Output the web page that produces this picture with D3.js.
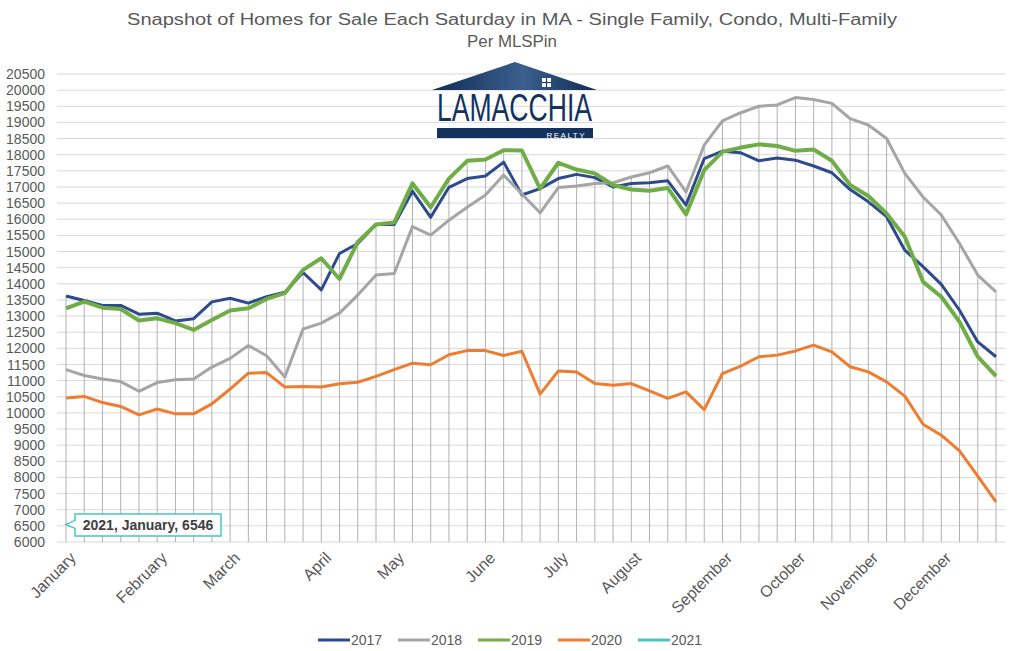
<!DOCTYPE html>
<html>
<head>
<meta charset="utf-8">
<script src="https://cdn.jsdelivr.net/npm/d3@7"></script>
<style>
  body { margin: 0; background: #fff; }
  text { font-family: "Liberation Sans", Arial, sans-serif; fill: #595959; }
</style>
</head>
<body>
<div id="app"></div>
<script>
//DATA------------------------------------------------------
var weeks = d3.range(52); // one point for each Saturday
var months = ["January", "February", "March", "April", "May", "June",
              "July", "August", "September", "October", "November", "December"];
var monthStartWeek = [0, 5, 9, 14, 18, 23, 27, 31, 36, 40, 44, 48];
var yTicks = d3.range(6000, 20501, 500);

var years = ["2017", "2018", "2019", "2020", "2021"];
var colors = ["#2c4a8c", "#a5a5a5", "#70ad47", "#ed7d31", "#4cc3c3"];
var widths = [3, 3, 4, 3, 3];

var s2017 = [13620,13480,13330,13330,13060,13090,12850,12920,13440,13550,
             13400,13600,13740,14350,13810,14940,15250,15840,15840,16870,
             16060,16990,17260,17340,17770,16750,16950,17260,17390,17290,
             17000,17110,17130,17190,16440,17880,18110,18060,17810,17900,
             17830,17650,17440,16920,16540,16080,15040,14530,13980,13180,
             12200,11740];
var s2018 = [11340,11160,11050,10970,10670,10940,11030,11050,11420,11690,
             12090,11770,11110,12600,12780,13090,13650,14270,14320,15770,
             15510,15970,16370,16750,17370,16780,16200,16980,17030,17110,
             17130,17310,17440,17650,16850,18300,19050,19300,19500,19540,
             19770,19710,19590,19120,18920,18500,17420,16690,16130,15250,
             14270,13750];
var s2019 = [13240,13450,13260,13220,12860,12930,12780,12570,12880,13170,
             13240,13530,13710,14430,14790,14150,15300,15840,15900,17110,
             16370,17260,17810,17850,18140,18130,16950,17750,17540,17420,
             17060,16920,16880,16970,16150,17520,18090,18220,18320,18270,
             18120,18160,17810,17060,16720,16180,15460,14060,13600,12820,
             11740,11140];
var s2020 = [10460,10510,10320,10200,9940,10120,9970,9970,10280,10740,
             11230,11250,10800,10820,10800,10900,10950,11130,11340,11540,
             11490,11800,11930,11930,11780,11910,10580,11300,11270,10910,
             10860,10910,10680,10450,10650,10100,11220,11450,11740,11790,
             11920,12100,11890,11430,11270,10960,10520,9650,9310,8820,
             8040,7240];
var s2021 = [6546];

var series = [s2017, s2018, s2019, s2020, s2021];

//CANVAS------------------------------------------------------
var svg = d3.select("#app")
  .append("svg")
    .attr("width", 1024)
    .attr("height", 651);

// scales
var x = d3.scalePoint()
          .domain(weeks)
          .range([66, 996]);
var y = d3.scaleLinear()
          .domain([6000, 20500])
          .range([542, 74]);

// title
svg.append("text")
    .attr("x", 512).attr("y", 25)
    .attr("text-anchor", "middle")
    .attr("font-size", 16)
    .attr("textLength", 770)
    .attr("lengthAdjust", "spacingAndGlyphs")
    .text("Snapshot of Homes for Sale Each Saturday in MA - Single Family, Condo, Multi-Family");
svg.append("text")
    .attr("x", 512).attr("y", 47)
    .attr("text-anchor", "middle")
    .attr("font-size", 16)
    .attr("textLength", 90)
    .attr("lengthAdjust", "spacingAndGlyphs")
    .text("Per MLSPin");

// horizontal gridlines
svg.append("g")
    .attr("class", "grid")
  .selectAll("line")
  .data(yTicks)
  .enter()
    .append("line")
      .attr("x1", 57).attr("x2", 1005)
      .attr("y1", function(d) { return y(d); })
      .attr("y2", function(d) { return y(d); })
      .attr("stroke", "#d9d9d9")
      .attr("stroke-width", 1);

// y labels
svg.append("g")
  .selectAll("text")
  .data(yTicks)
  .enter()
    .append("text")
      .attr("x", 45)
      .attr("y", function(d) { return y(d); })
      .attr("dy", "0.36em")
      .attr("text-anchor", "end")
      .attr("font-size", 14)
      .text(function(d) { return d; });

// drop lines from the highest year down to the axis
svg.append("g")
    .attr("class", "drop")
  .selectAll("line")
  .data(weeks)
  .enter()
    .append("line")
      .attr("x1", function(d) { return x(d); })
      .attr("x2", function(d) { return x(d); })
      .attr("y1", function(d) { return y(d3.max([s2017[d], s2018[d], s2019[d], s2020[d]])); })
      .attr("y2", y(6000))
      .attr("stroke", "#b0b0b0")
      .attr("stroke-width", 1);

// month labels
svg.append("g")
  .selectAll("text")
  .data(monthStartWeek)
  .enter()
    .append("text")
      .attr("transform", function(d) { return "translate(" + (x(d) + 3) + "," + 551 + ") rotate(-45)"; })
      .attr("text-anchor", "end")
      .attr("dy", "0.7em")
      .attr("font-size", 16)
      .text(function(d, i) { return months[i]; });

// logo
var defs = svg.append("defs");
var grad = defs.append("linearGradient")
    .attr("id", "roof")
    .attr("x1", "0%").attr("x2", "100%");
grad.append("stop").attr("offset", "0%").attr("stop-color", "#0f2d55");
grad.append("stop").attr("offset", "55%").attr("stop-color", "#3c5f8e");
grad.append("stop").attr("offset", "100%").attr("stop-color", "#0f2d55");

var logo = svg.append("g").attr("class", "logo");
logo.append("path")
    .attr("d", "M432,90 L515,62 L597,90 Z")
    .attr("fill", "url(#roof)");
logo.append("rect")
    .attr("x", 542).attr("y", 78).attr("width", 9).attr("height", 9)
    .attr("fill", "#ffffff");
logo.append("line")
    .attr("x1", 546.5).attr("x2", 546.5).attr("y1", 78).attr("y2", 87)
    .attr("stroke", "#1f3d68").attr("stroke-width", 1.2);
logo.append("line")
    .attr("x1", 542).attr("x2", 551).attr("y1", 82.5).attr("y2", 82.5)
    .attr("stroke", "#1f3d68").attr("stroke-width", 1.2);
logo.append("text")
    .attr("x", 437).attr("y", 121)
    .attr("font-family", "Liberation Serif, serif")
    .attr("font-size", 38)
    .attr("textLength", 155)
    .attr("lengthAdjust", "spacingAndGlyphs")
    .style("fill", "#13335e")
    .text("LAMACCHIA");
logo.append("rect")
    .attr("x", 437).attr("y", 128).attr("width", 156).attr("height", 10)
    .attr("fill", "#13335e");
logo.append("text")
    .attr("x", 586).attr("y", 137.6)
    .attr("text-anchor", "end")
    .attr("font-size", 8)
    .attr("letter-spacing", 1.5)
    .style("fill", "#ffffff")
    .text("REALTY");

// the lines
var line = d3.line()
    .x(function(d, i) { return x(i); })
    .y(function(d) { return y(d); });

svg.append("g")
    .attr("class", "lines")
  .selectAll("path")
  .data(series)
  .enter()
    .append("path")
      .attr("d", function(d) { return line(d); })
      .attr("fill", "none")
      .attr("stroke", function(d, i) { return colors[i]; })
      .attr("stroke-width", function(d, i) { return widths[i]; })
      .attr("stroke-linejoin", "round");

// callout for 2021
var px = x(0), py = y(s2021[0]);
var bx = px + 9, by = 514, bw = 146, bh = 22;
svg.append("path")
    .attr("d", "M" + bx + "," + by + " H" + (bx + bw) + " V" + (by + bh) + " H" + bx +
               " V" + (py + 4) + " L" + px + "," + py + " L" + bx + "," + (py - 4) + " Z")
    .attr("fill", "#ffffff")
    .attr("stroke", colors[4])
    .attr("stroke-width", 1.5);
svg.append("text")
    .attr("x", bx + bw / 2).attr("y", by + bh / 2)
    .attr("dy", "0.36em")
    .attr("text-anchor", "middle")
    .attr("font-size", 14)
    .attr("font-weight", "bold")
    .style("fill", "#404040")
    .text(years[4] + ", " + months[0] + ", " + s2021[0]);

// legend
var legend = svg.append("g")
    .attr("class", "legend")
  .selectAll("g")
  .data(years)
  .enter()
    .append("g")
      .attr("transform", function(d, i) { return "translate(" + (318 + i * 80) + ",640)"; });
legend.append("line")
    .attr("x1", 0).attr("x2", 32)
    .attr("stroke", function(d, i) { return colors[i]; })
    .attr("stroke-width", 3);
legend.append("text")
    .attr("x", 33)
    .attr("dy", "0.36em")
    .attr("font-size", 14)
    .text(function(d) { return d; });
</script>
</body>
</html>
